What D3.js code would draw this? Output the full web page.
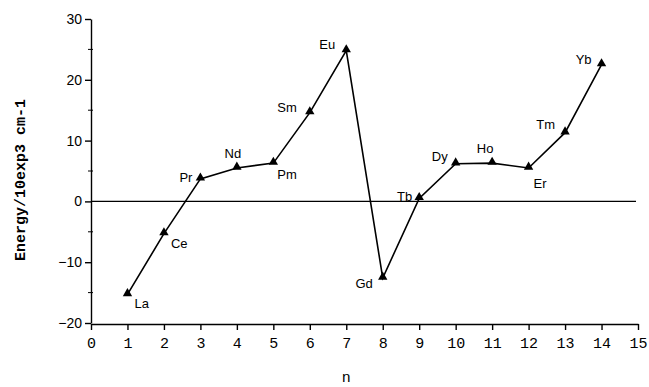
<!DOCTYPE html>
<html>
<head>
<meta charset="utf-8">
<script src="https://cdn.jsdelivr.net/npm/d3@7"></script>
<style>
  body { margin: 0; background: #fff; }
  svg { display: block; }
</style>
</head>
<body>
<div id="viz"></div>
<script>
var elements = ["La", "Ce", "Pr", "Nd", "Pm", "Sm", "Eu", "Gd", "Tb", "Dy", "Ho", "Er", "Tm", "Yb"];
var nValues = [1, 2, 3, 4, 5, 6, 7, 8, 9, 10, 11, 12, 13, 14];
var energy = [-15.3, -5.3, 3.7, 5.5, 6.3, 14.6, 24.8, -12.6, 0.5, 6.2, 6.3, 5.5, 11.3, 22.5];
var xTicks = [0, 1, 2, 3, 4, 5, 6, 7, 8, 9, 10, 11, 12, 13, 14, 15];
var yTicks = [-20, -10, 0, 10, 20, 30];
var yMinor = [-15, -5, 5, 15, 25];

// label placement: [dx, dy, anchor]
var labelPos = [
  [7, 14, "start"], [7, 14, "start"], [-8, 3, "end"], [-4, -10, "middle"],
  [4, 16, "start"], [-13, -1, "end"], [-11, -2, "end"], [-10, 10, "end"],
  [-7, 3, "end"], [-8, -3, "end"], [-7, -10, "middle"], [5, 20, "start"],
  [-10, -4, "end"], [-10, -1, "end"]
];

var w = 649, h = 387;
var m = {top: 19, right: 11, bottom: 64, left: 91};

var svg = d3.select('#viz').append('svg')
  .attr('width', w).attr('height', h);

var x = d3.scaleLinear().domain([0, 15]).range([m.left, w - m.right]);
var y = d3.scaleLinear().domain([-20, 30]).range([h - m.bottom, m.top]);

// x axis
var xg = svg.append('g')
  .attr('transform', 'translate(0,' + (h - m.bottom + 1) + ')')
  .call(d3.axisBottom(x).tickValues(xTicks).tickSize(6).tickSizeOuter(0).tickPadding(7));
xg.selectAll('text')
  .style('font-family', '"Liberation Mono", monospace')
  .style('font-size', '15px');

// y axis
var yg = svg.append('g')
  .attr('transform', 'translate(' + m.left + ',0)')
  .call(d3.axisLeft(y).tickValues(yTicks).tickSize(6).tickSizeOuter(0).tickPadding(3));
yg.selectAll('text')
  .style('font-family', '"Liberation Sans", Arial, sans-serif')
  .style('font-size', '14px');

yg.selectAll('.minor')
  .data(yMinor)
  .enter()
  .append('line')
  .attr('class', 'minor')
  .attr('x1', -3).attr('x2', 2)
  .attr('y1', d => y(d)).attr('y2', d => y(d))
  .attr('stroke', 'black');

svg.selectAll('.domain, .tick line').attr('stroke', 'black').attr('stroke-width', 1.4);

// zero line
svg.append('line')
  .attr('x1', x(0)).attr('x2', x(15) - 2)
  .attr('y1', y(0)).attr('y2', y(0))
  .attr('stroke', 'black').attr('stroke-width', 1.2);

var pts = nValues.map((n, i) => ({n: n, e: energy[i], name: elements[i], lp: labelPos[i]}));

var line = d3.line().x(d => x(d.n)).y(d => y(d.e));

svg.append('path')
  .datum(pts)
  .attr('d', line)
  .attr('fill', 'none')
  .attr('stroke', 'black')
  .attr('stroke-width', 1.6);

svg.selectAll('.mark')
  .data(pts)
  .enter()
  .append('path')
  .attr('class', 'mark')
  .attr('d', d3.symbol().type(d3.symbolTriangle).size(38))
  .attr('transform', d => 'translate(' + x(d.n) + ',' + (y(d.e) - 1) + ')')
  .attr('fill', 'black');

svg.selectAll('.lbl')
  .data(pts)
  .enter()
  .append('text')
  .attr('class', 'lbl')
  .attr('x', d => x(d.n) + d.lp[0])
  .attr('y', d => y(d.e) + d.lp[1])
  .attr('text-anchor', d => d.lp[2])
  .style('font-family', '"Liberation Sans", Arial, sans-serif')
  .style('font-size', '13px')
  .text(d => d.name);

// axis titles
svg.append('text')
  .attr('transform', 'translate(25,180) rotate(-90)')
  .attr('text-anchor', 'middle')
  .style('font-family', '"Liberation Mono", "Courier New", monospace')
  .style('font-weight', 'bold')
  .style('font-size', '15px')
  .text('Energy/10exp3 cm-1');

svg.append('text')
  .attr('x', x(7))
  .attr('y', 382)
  .attr('text-anchor', 'middle')
  .style('font-family', '"Liberation Mono", "Courier New", monospace')
  .style('font-size', '15px')
  .text('n');
</script>
</body>
</html>
